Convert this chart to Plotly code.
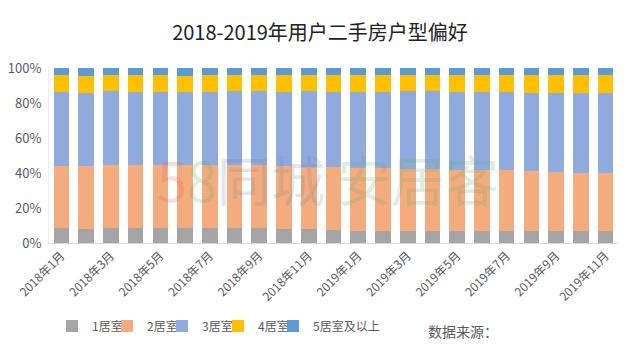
import plotly.graph_objects as go

months = ["2018年1月", "2018年2月", "2018年3月", "2018年4月", "2018年5月", "2018年6月",
          "2018年7月", "2018年8月", "2018年9月", "2018年10月", "2018年11月", "2018年12月",
          "2019年1月", "2019年2月", "2019年3月", "2019年4月", "2019年5月", "2019年6月",
          "2019年7月", "2019年8月", "2019年9月", "2019年10月", "2019年11月"]
tick_labels = months[::2]

room1 = [8.3, 8.2, 8.3, 8.5, 8.7, 8.8, 8.7, 8.5, 8.3, 8.2, 8.0, 7.4,
         7.1, 7.0, 7.0, 6.9, 6.9, 6.9, 6.9, 6.7, 6.7, 6.6, 6.7]
room2 = [35.9, 35.8, 36.5, 35.9, 35.6, 35.6, 36.0, 35.9, 36.0, 35.8, 35.7, 36.2,
         35.6, 35.7, 35.2, 35.3, 34.7, 34.7, 34.6, 34.4, 33.8, 33.2, 33.3]
room3 = [42.0, 42.0, 42.0, 42.1, 41.9, 41.8, 41.8, 42.4, 42.5, 42.5, 43.1, 42.9,
         43.8, 43.8, 44.6, 44.6, 44.9, 44.6, 44.7, 44.7, 45.5, 46.0, 45.8]
room4 = [9.6, 9.6, 9.2, 9.3, 9.6, 9.5, 9.3, 9.2, 9.1, 9.3, 9.1, 9.4,
         9.5, 9.4, 9.2, 9.1, 9.5, 9.6, 9.7, 10.0, 9.9, 10.0, 10.0]
room5 = [4.2, 4.4, 4.0, 4.2, 4.2, 4.3, 4.2, 4.0, 4.1, 4.2, 4.1, 4.1,
         4.0, 4.1, 4.0, 4.1, 4.0, 4.2, 4.1, 4.2, 4.1, 4.2, 4.2]

series = [("1居室", room1, "#A5A5A5"),
          ("2居室", room2, "#F4AC7E"),
          ("3居室", room3, "#8FAADC"),
          ("4居室", room4, "#FFC000"),
          ("5居室及以上", room5, "#5B9BD5")]

FONT = "Noto Sans CJK SC, Microsoft YaHei, sans-serif"
legend_ids = ["legend", "legend2", "legend3", "legend4", "legend5"]
symbol_px = [72, 127, 182, 238, 293]

fig = go.Figure()
for (name, vals, color), lg in zip(series, legend_ids):
    fig.add_trace(go.Bar(x=months, y=vals, name=name, marker_color=color,
                         marker_line_width=0, legend=lg, showlegend=True))

legends = {}
for lg, sx in zip(legend_ids, symbol_px):
    legends[lg] = dict(orientation="h", xanchor="left", x=(sx - 20 - 49) / 569,
                       yref="container", y=1 - 326 / 356, yanchor="middle",
                       font=dict(size=12, color="#595959", family=FONT),
                       itemwidth=30, bgcolor="rgba(0,0,0,0)")

fig.update_layout(
    width=640, height=356, showlegend=True,
    barmode="stack", barnorm="percent", bargap=0.37,
    plot_bgcolor="white", paper_bgcolor="white",
    margin=dict(l=49, r=22, t=68, b=113),
    font=dict(family=FONT, color="#595959", size=12),
    title=dict(text="2018-2019年用户二手房户型偏好", x=0.5, xanchor="center",
               y=1 - 33 / 356, yanchor="middle",
               font=dict(size=20, color="#222222", family=FONT)),
    xaxis=dict(type="category", tickmode="array", tickvals=tick_labels, ticktext=tick_labels,
               tickangle=-45, showline=True, linecolor="#D9D9D9", linewidth=1,
               ticks="", showgrid=False, automargin=False,
               tickfont=dict(size=12, color="#595959")),
    yaxis=dict(range=[0, 100], dtick=20, ticksuffix="%", showgrid=False,
               showline=True, linecolor="#EEEEEE", zeroline=False, automargin=False,
               ticklabelstandoff=4, tickfont=dict(size=13, color="#595959")),
    **legends,
)

# faint watermark
fig.add_annotation(text="<span style='color:#E8505B'>5</span><span style='color:#4CB050'>8</span>"
                        "<span style='color:#6E7FA8'>同城</span> <span style='color:#5BAA6A'>安居客</span>",
                   x=(328 - 49) / 569, y=(243 - 178) / 175, xref="paper", yref="paper",
                   showarrow=False, font=dict(size=54, family=FONT), opacity=0.2)

fig.add_annotation(text="数据来源：", xref="paper", yref="paper", x=(426 - 49) / 569,
                   y=(243 - 331) / 175, xanchor="left", yanchor="middle", showarrow=False,
                   font=dict(size=14, color="#595959", family=FONT))

fig.write_html("out.html", config={"displayModeBar": False},
               post_script="document.body.style.margin='0';")
